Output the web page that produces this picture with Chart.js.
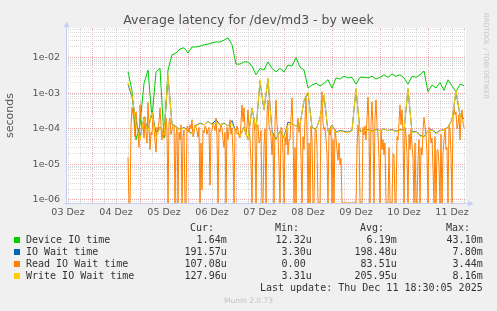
<!DOCTYPE html>
<html><head><meta charset="utf-8">
<script src="https://cdn.jsdelivr.net/npm/chart.js@4/dist/chart.umd.min.js"></script>
<style>
html,body{margin:0;padding:0;background:#f0f0f0;width:497px;height:311px;overflow:hidden;}
#wrap{position:relative;width:497px;height:311px;}
canvas{position:absolute;left:0;top:0;}
.t{position:absolute;white-space:pre;}
.title{left:0;width:497px;text-align:center;top:12px;font-family:"DejaVu Sans";font-size:12.5px;line-height:15px;color:#505050;}
.leg{font-family:"DejaVu Sans Mono";font-size:10px;line-height:12px;color:#333;}
.sw{position:absolute;width:6px;height:6px;left:14px;}
.munin{left:0;width:497px;text-align:center;top:296px;font-family:"DejaVu Sans";font-size:7.5px;line-height:9px;color:#c4c4c4;}
.wm{left:486px;top:56px;font-family:"DejaVu Sans";font-size:6.7px;line-height:8px;color:#c4c4c4;transform:translate(-50%,-50%) rotate(90deg);}
</style></head>
<body><div id="wrap">
<canvas id="c" width="497" height="311"></canvas>
<div class="t title">Average latency for /dev/md3 - by week</div>
<div class="t wm">RRDTOOL / TOBI OETIKER</div>
<div id="legend"></div>
<div class="t munin">Munin 2.0.73</div>
</div>
<script>
// ---- data (seconds) ----
// first sample: 04 Dez 18:00 (hours counted from 03 Dez 00:00)
const FIRST_HOUR = 42;
const dayLabels = ['03 Dez','04 Dez','05 Dez','06 Dez','07 Dez','08 Dez','09 Dez','10 Dez','11 Dez'];

// 2-hour samples
const deviceIO = [
 4.0e-3,1.2e-3,4.9e-5,1.3e-4,1.9e-3,4.5e-3,2.0e-4,4.0e-3,5.0e-3,5.5e-5,
 4.5e-3,1.2e-2,1.35e-2,1.75e-2,1.9e-2,1.35e-2,2.0e-2,2.0e-2,2.1e-2,2.3e-2,
 2.4e-2,2.6e-2,2.75e-2,2.75e-2,3.1e-2,3.6e-2,2.3e-2,6.6e-3,6.6e-3,7.6e-3,
 7.6e-3,5.8e-3,3.3e-3,5.0e-3,4.5e-3,7.6e-3,5.0e-3,4.0e-3,5.0e-3,4.0e-3,
 6.2e-3,5.8e-3,1.0e-2,5.4e-3,4.5e-3,1.4e-3,1.7e-3,1.9e-3,1.6e-3,1.9e-3,
 2.4e-3,1.4e-3,2.7e-3,2.5e-3,3.0e-3,2.7e-3,2.8e-3,1.8e-3,2.8e-3,2.8e-3,
 2.7e-3,3.0e-3,2.5e-3,2.8e-3,3.3e-3,2.8e-3,3.5e-3,3.0e-3,3.3e-3,2.7e-3,
 1.8e-3,3.0e-3,2.8e-3,3.3e-3,4.2e-3,1.1e-3,1.7e-3,1.4e-3,2.0e-3,1.2e-3,
 2.4e-3,1.6e-3,1.1e-3,1.8e-3,1.64e-3];
const ioWait = [
 1.8e-3,8.0e-4,1.6e-4,5.5e-5,2.1e-4,9.0e-5,3.1e-4,7.5e-5,1.1e-4,7.0e-5,
 3.0e-3,1.35e-4,1.15e-4,9.5e-5,1.1e-4,8.5e-5,7.5e-5,1.25e-4,1.45e-4,1.3e-4,
 1.6e-4,1.35e-4,1.8e-4,1.3e-4,1.45e-4,1.2e-4,1.7e-4,8.0e-5,6.5e-5,1.1e-4,
 5.0e-5,3.8e-4,9.5e-5,2.2e-3,3.4e-4,2.5e-3,8.5e-5,5.0e-5,8.5e-5,5.8e-5,
 1.55e-4,1.4e-4,1.2e-4,1.3e-4,6.2e-4,1.0e-3,1.1e-4,9.5e-5,2.0e-4,8.5e-4,
 8.5e-5,1.25e-4,8.0e-5,9.0e-5,8.5e-5,8.0e-5,9.0e-5,1.3e-3,8.5e-5,9.0e-5,
 9.5e-5,8.5e-5,9.5e-5,9.0e-5,1.0e-4,9.0e-5,9.5e-5,8.5e-5,9.5e-5,9.0e-5,
 1.3e-3,8.0e-5,8.5e-5,6.5e-5,6.0e-5,9.0e-5,9.5e-5,7.5e-5,9.0e-5,9.5e-5,
 1.1e-4,1.8e-4,1.1e-3,2.4e-4,1.92e-4];
const writeWait = [
 2.0e-3,9.0e-4,1.3e-4,4.9e-5,2.0e-4,8.2e-5,3.0e-4,5.5e-5,1.06e-4,6.7e-5,
 3.3e-3,1.3e-4,1.1e-4,9.3e-5,1.06e-4,8.2e-5,7.2e-5,1.2e-4,1.4e-4,1.3e-4,
 1.6e-4,1.3e-4,1.5e-4,1.3e-4,1.4e-4,1.2e-4,1.4e-4,7.7e-5,6.3e-5,1.06e-4,
 4.9e-5,3.9e-4,9.3e-5,2.4e-3,3.4e-4,2.7e-3,6.7e-5,4.9e-5,8.2e-5,5.5e-5,
 1.3e-4,1.4e-4,1.2e-4,1.3e-4,6.5e-4,1.1e-3,1.06e-4,9.3e-5,2.0e-4,9.0e-4,
 8.2e-5,1.2e-4,7.7e-5,8.8e-5,8.2e-5,7.7e-5,8.8e-5,1.4e-3,8.2e-5,8.8e-5,
 9.3e-5,8.2e-5,9.3e-5,8.8e-5,1.0e-4,8.8e-5,9.3e-5,8.2e-5,9.3e-5,8.8e-5,
 1.4e-3,7.7e-5,8.2e-5,6.3e-5,5.8e-5,8.8e-5,9.3e-5,7.2e-5,8.8e-5,9.3e-5,
 1.06e-4,1.8e-4,1.2e-3,2.5e-4,1.28e-4];
// half-hour samples
const readWait = [
 1.6e-5,0, 0,1.2e-4, 4.0e-4,2.5e-4, 1.8e-4,6e-5, 3.0e-4,1.4e-4, 9.3e-5,3.0e-5, 4.7e-4,2.0e-4, 1.06e-4,1.5e-4, 5.5e-5,2.2e-4, 8.2e-5,4.0e-5,
 5.5e-4,1.2e-4, 2.6e-5,8.0e-5, 6.7e-5,2.8e-4, 1.06e-4,4.5e-5, 2.2e-5,1.1e-4, 9.3e-5,1.6e-4, 3.9e-4,1.2e-4, 4.9e-5,9.0e-5, 1.3e-4,6.0e-5, 2.0e-4,1.0e-4,
 0,1.5e-4, 2.0e-4,7e-5, 9.3e-5,1.2e-4, 1.3e-4,0, 6.7e-5,1.1e-4, 0,8e-5, 4.9e-5,1.3e-4, 0,6e-5, 9.3e-5,0, 0,1.2e-4,
 1.06e-4,8e-5, 1.3e-4,1.0e-4, 1.8e-4,6e-5, 7.7e-5,1.3e-4, 1.1e-4,9e-5, 5.8e-5,1.1e-4, 0,4e-5, 1.9e-6,9e-5, 7.7e-5,1.2e-4, 1.06e-4,7e-5,
 9.3e-5,1.1e-4, 2.6e-6,8e-5, 9.3e-5,1.4e-4, 1.2e-4,9e-5, 2.0e-4,6e-5, 0,1.0e-4, 8.2e-5,1.3e-4, 1.06e-4,5e-5, 3.0e-5,8e-5, 0,1.1e-4,
 4.9e-5,9e-5, 1.8e-4,7e-5, 1.06e-4,2e-5, 0,1.0e-4, 7.7e-5,1.2e-4, 9.3e-5,6e-5, 5.5e-5,1.5e-4, 4.7e-4,1.6e-4, 3.9e-4,9e-5, 6.7e-5,1.2e-4,
 3.4e-4,1.0e-4, 4.9e-5,1.2e-5, 0,1.3e-4, 2.0e-4,7e-5, 0,1.1e-4, 1.3e-4,4e-5, 4.9e-5,9e-5, 0,0, 3.5e-5,1.0e-4, 0,2.5e-4,
 6.5e-4,1.2e-4, 9.3e-5,6e-5, 1.85e-5,7e-5, 0,1.5e-4, 6.5e-4,1.3e-4, 6.7e-5,1.0e-5, 0,1.1e-4, 9.3e-5,2e-5, 0,6e-5, 3.5e-5,1.2e-4,
 1.85e-5,5e-5, 4.9e-5,2.0e-4, 7.4e-4,1.0e-4, 0,3e-5, 0,9e-5, 2.0e-4,8e-5, 1.3e-4,1.5e-5, 0,6e-5, 2.6e-5,1.8e-4, 7.4e-4,9e-5,
 0,4e-5, 0,1.2e-4, 4.9e-5,0, 0,8e-5, 1.06e-4,3e-5, 0,0, 0,2.5e-4, 1.1e-3,1.4e-4, 9.3e-5,1.1e-4, 4.9e-5,2e-5,
 0,9e-5, 6.7e-5,1.2e-4, 0,5e-5, 0,1.0e-4, 5.5e-5,2.5e-5, 1.3e-5,4e-5, 9.7e-6,1.5e-5, 0,0, 0,0, 0,0,
 0,0, 0,0, 0,0, 0,0, 0,3e-5, 1.3e-4,6e-5, 0,0, 0,1.1e-4, 6.7e-5,1.2e-4, 4.9e-5,2.0e-4,
 7.8e-4,1.3e-4, 0,1.4e-4, 5.7e-4,1.1e-4, 0,2.0e-4, 6.5e-4,1.2e-4, 6.7e-5,1.5e-5, 0,9e-5, 2.6e-5,5e-5, 1.85e-5,4e-5, 0,0,
 0,3e-5, 0,0, 0,2e-5, 1.85e-5,0, 0,6e-5, 4.9e-5,1.5e-4, 4.7e-4,1.3e-4, 3.4e-4,8e-5, 0,1.1e-4, 6.7e-5,2e-5,
 0,7e-5, 2.6e-5,1.0e-4, 3.5e-5,1.5e-5, 0,4e-5, 0,0, 1.3e-5,5e-5, 0,3e-5, 1.85e-5,9e-5, 2.1e-4,1.2e-4, 6.7e-5,2e-5,
 0,1.1e-4, 9.3e-5,4e-5, 5.5e-5,8e-6, 0,6e-5, 0,2.5e-5, 2.6e-5,1e-5, 0,7e-5, 0,2e-5, 4.9e-5,1e-4, 2.6e-5,3e-5,
 0,1.3e-4, 9.3e-5,2e-5, 0,2.0e-4, 3.9e-4,2.5e-4, 3.0e-4,1.0e-4, 1.3e-4,2.5e-4, 4.9e-5,2.0e-4, 3.4e-4,1.5e-4, 1.07e-4];

// legend statistics
const seriesNames = ['Device IO time','IO Wait time','Read IO Wait time','Write IO Wait time'];
const seriesColors = ['#00CC00','#0066B3','#FF8000','#FFCC00'];
const statCur = ['1.64m','191.57u','107.08u','127.96u'];
const statMin = ['12.32u','3.30u','0.00 ','3.31u'];
const statAvg = ['6.19m','198.48u','83.51u','205.95u'];
const statMax = ['43.10m','7.80m','3.44m','8.16m'];
const lastUpdate = 'Last update: Thu Dec 11 18:30:05 2025';

// ---- axis ranges ----
const X_MIN = 11, X_MAX = 211;          // hours from 03 Dez 00:00
const Y_MIN = 8.23e-7, Y_MAX = 0.0682;  // log axis range (zero is drawn on the floor)

// legend HTML
(function(){
  const L = document.getElementById('legend');
  let h = '';
  const cols = [[statCur,270.3,'Cur:'],[statMin,185.3,'Min:'],[statAvg,100.3,'Avg:'],[statMax,14.3,'Max:']];
  cols.forEach(c => { h += `<div class="t leg" style="top:222px;right:${c[1]+12.7}px">${c[2]}</div>`; });
  seriesNames.forEach((n,i) => {
    const top = 234 + 12*i;
    h += `<div class="sw" style="top:${top+3}px;background:${seriesColors[i]}"></div>`;
    h += `<div class="t leg" style="top:${top}px;left:26px">${n}</div>`;
    cols.forEach(c => { h += `<div class="t leg" style="top:${top}px;right:${c[1]}px">${c[0][i]}</div>`; });
  });
  h += `<div class="t leg" style="top:282px;right:14.3px">${lastUpdate}</div>`;
  L.innerHTML = h;
})();

const toPoints = (arr, step) => arr.map((v,i) => ({x: FIRST_HOUR + step*i, y: v === 0 ? Y_MIN : v}));

const xTickValues = [];
for (let h = 12; h <= 210; h += 6) xTickValues.push(h);
const yTickValues = [];
for (let e = -7; e <= -2; e++) for (let m = 1; m <= 9; m++) {
  const v = Number(m + 'e' + e);
  if (v >= Y_MIN && v <= Y_MAX) yTickValues.push(v);
}
const isDecade = v => Math.abs(Math.log10(v) - Math.round(Math.log10(v))) < 1e-9;
const fmtDecade = v => { const e = Math.round(Math.log10(v)); return '1e' + (e < 0 ? '-' : '+') + String(Math.abs(e)).padStart(2,'0'); };

const RED = 'rgba(222,110,110,0.6)', GRAY = '#d8d8d8', AXIS = '#c6cdee';

const bgPlugin = {id:'bg', beforeDraw(ch){
  const {ctx, chartArea:a} = ch; ctx.save(); ctx.fillStyle = '#fff';
  ctx.fillRect(a.left, a.top, a.right-a.left, a.bottom-a.top); ctx.restore(); }};
const axisPlugin = {id:'axes', afterDatasetsDraw(ch){
  const {ctx, chartArea:a} = ch; ctx.save();
  ctx.strokeStyle = AXIS; ctx.fillStyle = AXIS; ctx.lineWidth = 1;
  const x0 = Math.round(a.left) + 0.5, y0 = Math.round(a.bottom) + 0.5;
  ctx.beginPath(); ctx.moveTo(x0, y0 + 2); ctx.lineTo(x0, a.top - 4); ctx.stroke();
  ctx.beginPath(); ctx.moveTo(x0 - 2, y0); ctx.lineTo(a.right + 3, y0); ctx.stroke();
  ctx.beginPath(); ctx.moveTo(x0 - 3, a.top - 1); ctx.lineTo(x0 + 3, a.top - 1); ctx.lineTo(x0, a.top - 6.5); ctx.closePath(); ctx.fill();
  ctx.beginPath(); ctx.moveTo(a.right + 2, y0 - 3); ctx.lineTo(a.right + 2, y0 + 3); ctx.lineTo(a.right + 7.5, y0); ctx.closePath(); ctx.fill();
  ctx.restore(); }};

new Chart(document.getElementById('c'), {
  type: 'line',
  data: { datasets: [
    {label: seriesNames[0], data: toPoints(deviceIO, 2), borderColor: seriesColors[0], order: 4},
    {label: seriesNames[1], data: toPoints(ioWait, 2), borderColor: seriesColors[1], order: 3},
    {label: seriesNames[2], data: toPoints(readWait, 0.5), borderColor: seriesColors[2], order: 2},
    {label: seriesNames[3], data: toPoints(writeWait, 2), borderColor: seriesColors[3], order: 1}
  ]},
  options: {
    responsive: false, animation: false, devicePixelRatio: 1,
    elements: {line: {borderWidth: 1, tension: 0, fill: false}, point: {radius: 0, hoverRadius: 0}},
    layout: {padding: {top: 28, right: 31, left: 0, bottom: 0}},
    plugins: {legend: {display: false}, tooltip: {enabled: false}, title: {display: false}},
    scales: {
      x: {
        type: 'linear', min: X_MIN, max: X_MAX,
        afterFit(s){ s.height = 108; },
        afterBuildTicks(s){ s.ticks = xTickValues.map(v => ({value: v})); },
        ticks: {autoSkip: false, maxRotation: 0, minRotation: 0, padding: 4, color: '#555',
          font: {family: 'DejaVu Sans', size: 9.5},
          callback: v => (v % 24 === 12 ? dayLabels[(v - 12) / 24] : '')},
        grid: {drawTicks: false, lineWidth: 1, color: c => (c.tick && c.tick.value % 24 === 0 ? RED : GRAY)},
        border: {display: false, dash: [1, 1]}
      },
      y: {
        type: 'logarithmic', min: Y_MIN, max: Y_MAX,
        afterFit(s){ s.width = 66; },
        afterBuildTicks(s){ s.ticks = yTickValues.map(v => ({value: v})); },
        ticks: {autoSkip: false, padding: 6, color: '#555', font: {family: 'DejaVu Sans', size: 9.5},
          callback: v => (isDecade(v) ? fmtDecade(v) : '')},
        grid: {drawTicks: false, lineWidth: 1, color: c => (c.tick && isDecade(c.tick.value) ? RED : GRAY)},
        border: {display: false, dash: [1, 1]},
        title: {display: true, text: 'seconds', color: '#555', font: {family: 'DejaVu Sans', size: 11}, padding: {top: 4, bottom: 0}}
      }
    }
  },
  plugins: [bgPlugin, axisPlugin]
});
</script>
</body></html>
